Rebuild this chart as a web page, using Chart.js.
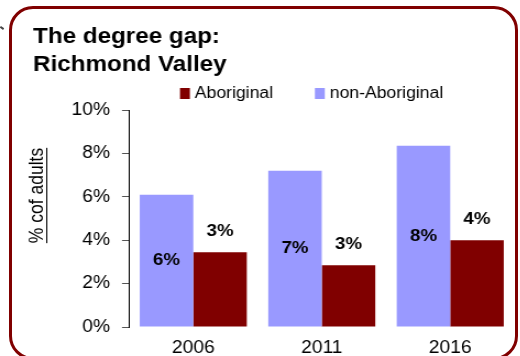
<!DOCTYPE html>
<html>
<head>
<meta charset="utf-8">
<script src="https://cdn.jsdelivr.net/npm/chart.js@4.4.1/dist/chart.umd.min.js"></script>
<style>
  html, body { margin: 0; padding: 0; background: #fff; overflow: hidden; }
  body { width: 520px; height: 356px; position: relative; }
  #cadre {
    position: absolute; left: 9px; top: 6px; width: 503px; height: 348px;
    border: 3px solid #800000; border-radius: 24px;
  }
  #trait { position: absolute; left: 0; top: 27px; width: 4px; height: 2px; background: #444; transform: rotate(35deg); }
  /* le graphique est dessine un peu etroit puis etire en largeur */
  #zone { position: absolute; left: 0; top: 0; width: 473px; height: 370px; transform: scaleX(1.1); transform-origin: 0 0; }
</style>
</head>
<body>
<div id="trait"></div>
<div id="cadre"></div>
<div id="zone"><canvas id="graphique" width="473" height="370"></canvas></div>
<script>
const annees = ['2006', '2011', '2016']
const non_aborigene = [6.1, 7.2, 8.35]
const aborigene = [3.45, 2.85, 4.0]
const titre = ['The degree gap:', 'Richmond Valley']
const titre_axe = '% cof adults'

Chart.defaults.font.family = "'Liberation Sans', Arial, sans-serif"
Chart.defaults.color = '#000'

const pourcent = (v) => Math.round(v) + '%'

// valeurs au milieu des barres bleues, au dessus des barres rouges
const etiquettes = {
    id: 'etiquettes',
    afterDatasetsDraw(chart){
        const ctx = chart.ctx
        ctx.save()
        ctx.font = "bold 17px 'Liberation Sans', Arial, sans-serif"
        ctx.fillStyle = '#000'
        ctx.textAlign = 'center'
        ctx.textBaseline = 'middle'
        chart.data.datasets.forEach((ds, i) => {
            chart.getDatasetMeta(i).data.forEach((barre, j) => {
                const y = i === 0 ? (barre.y + barre.base) / 2 : barre.y - 21
                ctx.fillText(pourcent(ds.data[j]), barre.x, y)
            })
        })
        ctx.restore()
    }
}

// titre de l'axe y souligne
const axe_souligne = {
    id: 'axe_souligne',
    afterDraw(chart){
        const ctx = chart.ctx
        const centre = (chart.chartArea.top + chart.chartArea.bottom) / 2 - 23
        ctx.save()
        ctx.font = "17.5px 'Liberation Sans', Arial, sans-serif"
        ctx.translate(39.4, centre)
        ctx.rotate(-Math.PI / 2)
        ctx.textAlign = 'center'
        ctx.textBaseline = 'alphabetic'
        ctx.fillStyle = '#000'
        ctx.fillText(titre_axe, 0, 0)
        const largeur = ctx.measureText(titre_axe).width
        ctx.fillRect(-largeur / 2, 2.6, largeur, 1)
        ctx.restore()
    }
}

// legende : rouge d'abord, puis bleu
const legende = {
    id: 'legende',
    afterDraw(chart){
        const ctx = chart.ctx
        ctx.save()
        ctx.font = "16px 'Liberation Sans', Arial, sans-serif"
        ctx.textBaseline = 'middle'
        ctx.textAlign = 'left'
        let x = 163.6
        const y = 93.5
        chart.data.datasets.slice().reverse().forEach(ds => {
            ctx.fillStyle = ds.backgroundColor
            ctx.fillRect(x, y - 5.5, 9, 11)
            ctx.fillStyle = '#000'
            ctx.fillText(ds.label, x + 13.5, y)
            x += 13.5 + ctx.measureText(ds.label).width + 38
        })
        ctx.restore()
    }
}

const config = {
    type: 'bar',
    data: {
        labels: annees,
        datasets: [{
            label: 'non-Aboriginal',
            data: non_aborigene,
            backgroundColor: '#9999ff',
            categoryPercentage: 0.833,
            barPercentage: 1.0
        }, {
            label: 'Aboriginal',
            data: aborigene,
            backgroundColor: '#800000',
            categoryPercentage: 0.833,
            barPercentage: 1.0
        }]
    },
    options: {
        responsive: false,
        animation: false,
        devicePixelRatio: 1,
        layout: { padding: { left: 30, right: 5.3, top: 0, bottom: 0 } },
        plugins: {
            legend: { display: false },
            tooltip: { enabled: false },
            title: {
                display: true,
                align: 'start',
                text: titre,
                color: '#000',
                font: { size: 22, weight: 'bold', lineHeight: 1.25 },
                padding: { top: 23.5, bottom: 31.5 }
            }
        },
        scales: {
            x: {
                grid: { display: false, drawTicks: false },
                border: { display: false },
                ticks: { font: { size: 17.5 }, padding: 11, color: '#000' },
                afterFit: (axe) => { axe.height = 43 }
            },
            y: {
                min: 0,
                max: 10,
                ticks: { stepSize: 2, callback: (v) => v + '%', padding: 10.9, font: { size: 17.5 }, color: '#000' },
                grid: { drawOnChartArea: false, tickLength: 6.4, tickColor: '#555' },
                border: { display: true, color: '#000', width: 1 },
                afterFit: (axe) => { axe.width = 87.3 }
            }
        }
    },
    plugins: [etiquettes, axe_souligne, legende]
}

const chart = new Chart(document.querySelector('#graphique'), config)
</script>
</body>
</html>
